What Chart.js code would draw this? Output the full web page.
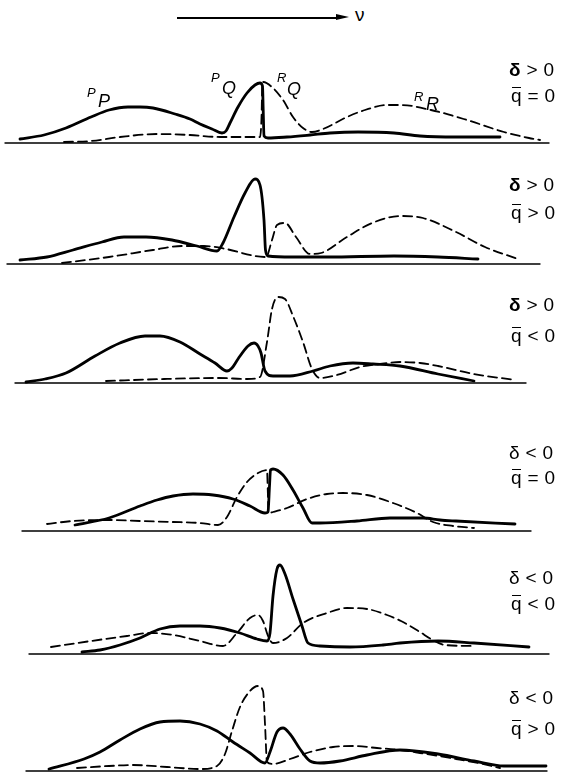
<!DOCTYPE html>
<html><head><meta charset="utf-8">
<script src="https://cdn.jsdelivr.net/npm/chart.js@4.4.1/dist/chart.umd.min.js"></script>
<style>
html,body{margin:0;padding:0;background:#fff;}
body{width:568px;height:774px;overflow:hidden;position:relative;font-family:"Liberation Sans",Arial,Helvetica,sans-serif;color:#000;}
.panel{position:absolute;left:0;width:568px;}
.lbl{position:absolute;font-size:19px;line-height:19px;white-space:pre;letter-spacing:0.3px;}
.qb{position:relative;display:inline-block;}
.qb::before{content:"";position:absolute;left:1px;right:1px;top:1px;border-top:1.6px solid #000;}
.sup{position:absolute;font-style:italic;font-size:13px;line-height:13px;}
.main{position:absolute;font-style:italic;font-size:18px;line-height:18px;}
</style></head><body>
<div style="position:absolute;left:177px;top:17px;width:162px;height:1.6px;background:#000"></div>
<div style="position:absolute;left:336px;top:14.3px;width:0;height:0;border-left:13px solid #000;border-top:3.6px solid transparent;border-bottom:3.6px solid transparent"></div>
<div style="position:absolute;left:355px;top:5px;font-size:19px;line-height:19px">ν</div>
<script>
// ν (arbitrary units) and intensity pairs
const solid1 = [[20,4],[44,8],[66,15],[91,26],[109,33],[128,36],[140,36],[153,35],[175,29],[190,24],[200,19],[212,14],[222,10],[226,12],[230,20],[238,36],[247,50],[255,58],[260,60],[262.5,57],[263.2,33],[264,7],[268,5],[287,6],[310,8],[330,10],[358,11],[394,10],[420,7],[456,6],[500,6]];
const dashed1 = [[64,1],[91,2],[120,6],[157,9],[190,8],[220,6],[260,6],[261.5,25],[262.2,55],[263,61],[273,55],[283,43],[293,26],[303,15],[312,11],[323,14],[347,26],[365,33],[387,38],[401,38],[431,33],[467,23],[504,11],[529,5],[540,3]];
const solid2 = [[20,4],[47,7],[73,14],[102,22],[124,27],[146,27],[172,24],[197,18],[217,13],[223,21],[234,47],[245,71],[255,85],[260,79],[264,44],[265.5,14],[268,8],[292,7],[328,7],[394,8],[438,7],[478,5]];
const dashed2 = [[62,1],[109,7],[153,14],[182,18],[204,18],[226,15],[255,8],[266,7],[272,24],[277,39],[285,41],[296,27],[310,10],[321,11],[347,27],[372,41],[401,48],[423,46],[456,32],[485,17],[518,5]];
const solid3 = [[26,1],[45,4],[66,10],[95,27],[120,40],[145,47],[160,47],[180,41],[200,29],[215,20],[227,12],[232,15],[238,24],[248,37],[254,40],[258,37],[261,30],[265,12],[273,7],[290,7],[313,12],[330,17],[353,20],[373,19],[400,17],[438,9],[474,2]];
const dashed3 = [[106,2],[164,4],[219,5],[247,4],[260,6],[267,41],[272,74],[278,86],[285,84],[293,67],[303,41],[312,14],[320,5],[337,8],[360,16],[380,19],[401,21],[420,20],[438,17],[474,9],[515,3]];
const solid4 = [[75,6],[109,13],[140,25],[157,31],[173,35],[193,37],[213,36],[233,32],[250,25],[265,18],[268,19],[269.5,45],[270.5,61],[273,62],[283,56],[293,41],[303,23],[312,8],[320,8],[357,10],[390,13],[423,13],[440,11],[456,10],[515,7]];
const dashed4 = [[47,7],[73,10],[109,11],[140,10],[173,9],[200,8],[218,6],[227,14],[237,34],[247,49],[258,58],[267,61],[267.8,40],[268.5,18],[273,19],[287,23],[307,32],[327,37],[343,38],[367,36],[393,28],[417,18],[433,9],[453,5],[474,3]];
const solid5 = [[82,2],[100,4],[120,9],[140,16],[160,25],[180,28],[200,28],[220,26],[240,21],[257,15],[267,13],[270,21],[273,58],[277,85],[280,89],[285,80],[293,55],[302,28],[308,11],[320,8],[350,7],[383,9],[400,11],[438,13],[474,11],[529,7]];
const dashed5 = [[51,7],[91,13],[127,18],[150,21],[173,19],[200,13],[223,8],[237,21],[250,36],[258,39],[263,33],[268,18],[273,11],[287,16],[303,31],[327,41],[347,46],[367,45],[387,39],[401,33],[420,22],[431,15],[445,9],[473,8]];
const solid6 = [[49,2],[84,12],[100,19],[120,31],[140,42],[160,49],[180,50],[200,47],[217,40],[233,29],[250,18],[265,8],[270,19],[277,39],[283,43],[290,37],[300,22],[310,10],[320,8],[340,10],[367,16],[400,21],[438,17],[474,10],[504,5],[546,5]];
const dashed6 = [[77,3],[109,5],[133,6],[167,4],[200,2],[217,5],[225,17],[232,40],[240,64],[250,80],[258,85],[263,80],[265,47],[267,9],[273,7],[290,12],[310,19],[333,24],[353,25],[377,23],[400,21],[420,18],[456,12],[478,8],[500,3]];
const axisStart = [5,7,15,22,29,26];
const axisEnd = [549,540,526,531,549,547];
const deltaSigns = ['>','>','>','<','<','<'];
const qSigns = ['=','>','<','=','<','>'];

// layout (page placement only)
const baseTop = [143,264,383,531,654,771];
const deltaRowTop = [60,175,295,443,568,688];
const qRowTop = [86,203,326,468,594,719];

const solids = [solid1,solid2,solid3,solid4,solid5,solid6];
const dasheds = [dashed1,dashed2,dashed3,dashed4,dashed5,dashed6];
const toXY = a => a.map(p => ({x:p[0], y:p[1]}));

for (let i = 0; i < 6; i++) {
  const c = document.createElement('canvas');
  c.className = 'panel';
  c.width = 568; c.height = 106;
  c.style.top = (baseTop[i] - 100) + 'px';
  c.style.width = '568px'; c.style.height = '106px';
  document.body.appendChild(c);
  new Chart(c, {
    type: 'line',
    data: { datasets: [
      { data: [{x:axisStart[i], y:0},{x:axisEnd[i], y:0}], borderColor:'#000', borderWidth:1.4, pointRadius:0, tension:0, clip:false },
      { data: toXY(dasheds[i]), borderColor:'#000', borderWidth:1.8, borderDash:[9,5], pointRadius:0, cubicInterpolationMode:'monotone', clip:false },
      { data: toXY(solids[i]), borderColor:'#000', borderWidth:2.8, pointRadius:0, cubicInterpolationMode:'monotone', clip:false }
    ]},
    options: {
      responsive:false, animation:false, events:[],
      devicePixelRatio:1,
      layout:{padding:0},
      plugins:{legend:{display:false}, tooltip:{enabled:false}},
      elements:{line:{borderCapStyle:'round', borderJoinStyle:'round', fill:false}},
      scales:{
        x:{type:'linear', min:0, max:568, display:false},
        y:{type:'linear', min:-6, max:100, display:false}
      }
    }
  });
  const d = document.createElement('div');
  d.className = 'lbl';
  d.style.left = '509px'; d.style.top = deltaRowTop[i] + 'px';
  d.innerHTML = '<span style="font-weight:' + (i < 3 ? 'bold' : 'normal') + '">δ</span> ' + deltaSigns[i] + ' 0';
  document.body.appendChild(d);
  const q = document.createElement('div');
  q.className = 'lbl';
  q.style.left = '511px'; q.style.top = qRowTop[i] + 'px';
  q.innerHTML = '<span class="qb">q</span> ' + qSigns[i] + ' 0';
  document.body.appendChild(q);
}

// branch labels on the top panel
const branchLabels = [['P','P',87,98],['P','Q',211,222],['R','Q',277,287],['R','R',414,426]];
const branchTops = [[86,92],[71,79],[71,80],[90,95]];
branchLabels.forEach((b, k) => {
  const s = document.createElement('div');
  s.className = 'sup'; s.textContent = b[0];
  s.style.left = b[2] + 'px'; s.style.top = branchTops[k][0] + 'px';
  document.body.appendChild(s);
  const m = document.createElement('div');
  m.className = 'main'; m.textContent = b[1];
  m.style.left = b[3] + 'px'; m.style.top = branchTops[k][1] + 'px';
  document.body.appendChild(m);
});
</script>
</body></html>
